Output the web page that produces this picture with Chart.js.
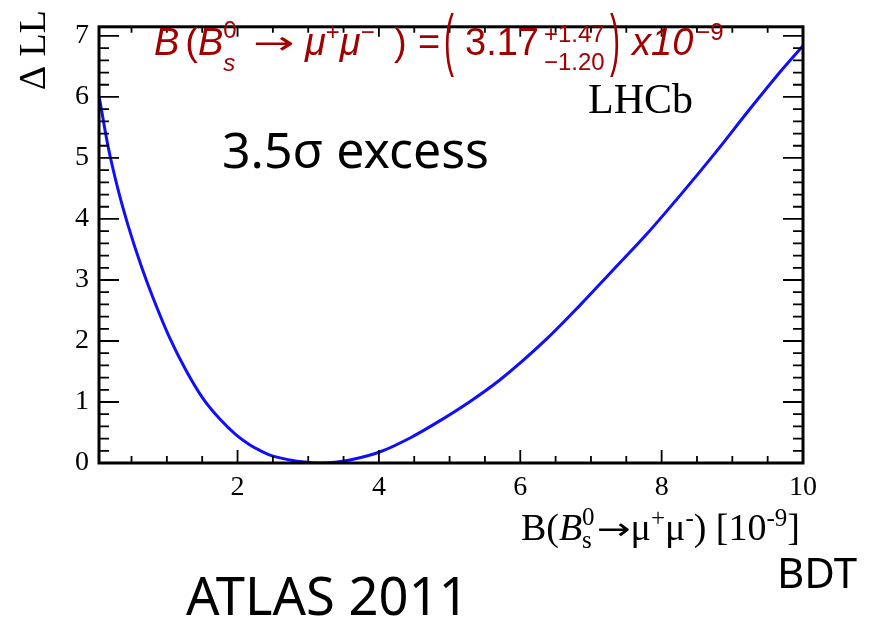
<!DOCTYPE html>
<html>
<head>
<meta charset="utf-8">
<title>Delta LL scan</title>
<script src="https://cdn.jsdelivr.net/npm/chart.js@4.4.1/dist/chart.umd.min.js"></script>
<style>
    html, body { margin: 0; padding: 0; background: #fff; }
    #wrap { width: 877px; height: 620px; position: relative; }
</style>
</head>
<body>
<div id="wrap"><canvas id="llChart" width="877" height="620"></canvas></div>
<script>
// branching fraction scan points (x in 1e-9) and the Delta LL value
var bfValues = [0.04, 0.17, 0.31, 0.45, 0.64, 0.80, 1.04, 1.28, 1.51, 1.75, 1.98, 2.17, 2.31, 2.46, 2.74, 2.95, 3.17,
    3.38, 3.59, 4.01, 4.44, 4.86, 5.28, 5.71, 6.37, 6.84, 7.31, 7.78, 8.30, 8.77, 9.24, 9.72, 10.0];
var dllValues = [6.02, 5.18, 4.48, 3.90, 3.22, 2.72, 2.05, 1.50, 1.06, 0.72, 0.46, 0.30, 0.21, 0.13, 0.05, 0.015, 0.0,
    0.012, 0.05, 0.18, 0.41, 0.69, 1.00, 1.36, 2.03, 2.58, 3.16, 3.74, 4.44, 5.10, 5.79, 6.47, 6.84];
var xTicks = [2, 4, 6, 8, 10];
var yTicks = [0, 1, 2, 3, 4, 5, 6, 7];

var RED = '#a00000';

// draws a row of text pieces (with sub/superscripts) starting at x
function drawRuns(ctx, x, y, runs, align) {
    var total = 0;
    runs.forEach(function (r) {
        ctx.font = r.f;
        var w = ctx.measureText(r.t).width * (r.sx || 1);
        if (r.s) {
            ctx.font = r.s.f;
            w = Math.max(w, ctx.measureText(r.s.t).width);
        }
        r.w = w + (r.gap || 0);
        total += r.w;
    });
    var cx = align === 'right' ? x - total : x;
    ctx.textAlign = 'left';
    ctx.textBaseline = 'alphabetic';
    runs.forEach(function (r) {
        ctx.font = r.f;
        if (r.sy || r.sx) {
            ctx.save();
            ctx.translate(cx, y + (r.dy || 0));
            ctx.scale(r.sx || 1, r.sy || 1);
            ctx.fillText(r.t, 0, 0);
            ctx.restore();
        } else {
            ctx.fillText(r.t, cx, y + (r.dy || 0));
        }
        if (r.s) {
            ctx.font = r.s.f;
            ctx.fillText(r.s.t, cx, y + r.s.dy);
        }
        cx += r.w;
    });
}

// frame + inward ticks on all four sides
var frameTicks = {
    id: 'frameTicks',
    afterDatasetsDraw: function (chart) {
        var ctx = chart.ctx, a = chart.chartArea;
        var sx = chart.scales.x, sy = chart.scales.y;
        ctx.save();
        ctx.strokeStyle = '#000';
        ctx.lineWidth = 1.8;
        ctx.beginPath();
        var v, px, len, major;
        for (v = 0.5; v <= 10.001; v += 0.5) {
            px = sx.getPixelForValue(v);
            major = Math.abs(v / 2 - Math.round(v / 2)) < 1e-6;
            len = major ? 13 : 7;
            ctx.moveTo(px, a.bottom); ctx.lineTo(px, a.bottom - len);
            len = major ? 10 : 6;
            ctx.moveTo(px, a.top); ctx.lineTo(px, a.top + len);
        }
        for (v = 0.2; v <= 7.101; v += 0.2) {
            px = sy.getPixelForValue(v);
            major = Math.abs(v - Math.round(v)) < 1e-6;
            len = major ? 20 : 10;
            ctx.moveTo(a.left, px); ctx.lineTo(a.left + len, px);
            ctx.moveTo(a.right, px); ctx.lineTo(a.right - len, px);
        }
        ctx.stroke();
        ctx.lineWidth = 3;
        ctx.strokeRect(a.left, a.top, a.right - a.left, a.bottom - a.top);
        ctx.restore();
    },
    afterDraw: function (chart) {
        var ctx = chart.ctx;
        ctx.save();

        // y axis title
        ctx.fillStyle = '#000';
        ctx.font = '38px "Liberation Serif"';
        ctx.translate(45, 10);
        ctx.rotate(-Math.PI / 2);
        ctx.textAlign = 'right';
        ctx.textBaseline = 'alphabetic';
        ctx.fillText('\u0394 LL', 0, 0);
        ctx.setTransform(1, 0, 0, 1, 0, 0);

        // x axis title
        var T = '38px "Liberation Serif"', TI = 'italic 38px "Liberation Serif"', TS = '25px "Liberation Serif"';
        var ARR = '30px "DejaVu Sans"';
        drawRuns(ctx, 800, 540, [
            { t: 'B(', f: T },
            { t: 'B', f: TI },
            { t: '0', f: TS, dy: -15, s: { t: 's', f: TS, dy: 8 }, gap: 2 },
            { t: '\u2192', f: ARR, sx: 1.35, dy: -1 },
            { t: '\u03bc', f: T },
            { t: '+', f: TS, dy: -14 },
            { t: '\u03bc', f: T },
            { t: '-', f: TS, dy: -14 },
            { t: ') [10', f: T },
            { t: '-9', f: TS, dy: -14 },
            { t: ']', f: T }
        ], 'right');

        // LHCb label
        ctx.font = '42px "Liberation Serif"';
        ctx.fillText('LHCb', 588, 113);

        // branching fraction result
        ctx.fillStyle = RED;
        var M = 'italic 38px "Liberation Sans"', R = '38px "Liberation Sans"';
        var S = '24px "Liberation Sans"', SI = 'italic 24px "Liberation Sans"';
        var P = '30px "Liberation Sans"';
        drawRuns(ctx, 154, 55, [
            { t: 'B', f: M, gap: 6 },
            { t: '(', f: R },
            { t: 'B', f: M },
            { t: '0', f: S, dy: -17, s: { t: 's', f: SI, dy: 16 } }
        ], 'left');
        drawRuns(ctx, 253, 55, [{ t: '\u2192', f: '32px "DejaVu Sans"', sx: 1.55, dy: -1 }], 'left');
        drawRuns(ctx, 305, 55, [
            { t: '\u03bc', f: M },
            { t: '+', f: S, dy: -15 },
            { t: '\u03bc', f: M },
            { t: '\u2212', f: S, dy: -15 }
        ], 'left');
        drawRuns(ctx, 394, 55, [{ t: ')', f: R }], 'left');
        drawRuns(ctx, 418, 55, [{ t: '=', f: R }], 'left');
        drawRuns(ctx, 444, 55, [{ t: '(', f: P, sy: 2.3, dy: 8 }], 'left');
        drawRuns(ctx, 465, 55, [
            { t: '3.17', f: R, gap: 5 },
            { t: '+1.47', f: S, dy: -13, s: { t: '\u22121.20', f: S, dy: 15 } }
        ], 'left');
        drawRuns(ctx, 610, 55, [{ t: ')', f: P, sy: 2.3, dy: 8 }], 'left');
        drawRuns(ctx, 632, 55, [
            { t: 'x10', f: M, gap: 3 },
            { t: '\u22129', f: S, dy: -15 }
        ], 'left');

        // slide annotations
        ctx.fillStyle = '#000';
        ctx.font = '50px "Noto Sans"';
        ctx.fillText('3.5\u03c3 excess', 222, 168);
        ctx.font = '52.5px "Noto Sans"';
        ctx.fillText('ATLAS 2011', 186, 615);
        ctx.font = '42px "Noto Sans"';
        ctx.fillText('BDT', 777, 588);

        ctx.restore();
    }
};

var points = bfValues.map(function (x, i) {
    return { x: x, y: dllValues[i] };
});

var ctx = document.getElementById('llChart').getContext('2d');
var llChart = new Chart(ctx, {
    type: 'line',
    data: {
        datasets: [{
            data: points,
            borderColor: 'rgb(15, 15, 250)',
            borderWidth: 3,
            pointRadius: 0,
            fill: false,
            cubicInterpolationMode: 'monotone'
        }]
    },
    options: {
        responsive: false,
        animation: false,
        layout: { padding: { left: 0, right: 74, top: 11, bottom: 0 } },
        plugins: { legend: { display: false }, tooltip: { enabled: false } },
        scales: {
            x: {
                type: 'linear',
                min: 0.04,
                max: 10,
                afterBuildTicks: function (s) { s.ticks = xTicks.map(function (v) { return { value: v }; }); },
                afterFit: function (s) { s.height = 157; },
                grid: { display: false, drawTicks: false },
                border: { display: false },
                ticks: { color: '#000', padding: 8, maxRotation: 0, font: { family: 'Liberation Serif', size: 28 } }
            },
            y: {
                min: 0,
                max: 7.15,
                afterBuildTicks: function (s) { s.ticks = yTicks.map(function (v) { return { value: v }; }); },
                afterFit: function (s) { s.width = 99; },
                grid: { display: false, drawTicks: false },
                border: { display: false },
                ticks: { color: '#000', padding: 10, font: { family: 'Liberation Serif', size: 28 } }
            }
        }
    },
    plugins: [frameTicks]
});
</script>
</body>
</html>
